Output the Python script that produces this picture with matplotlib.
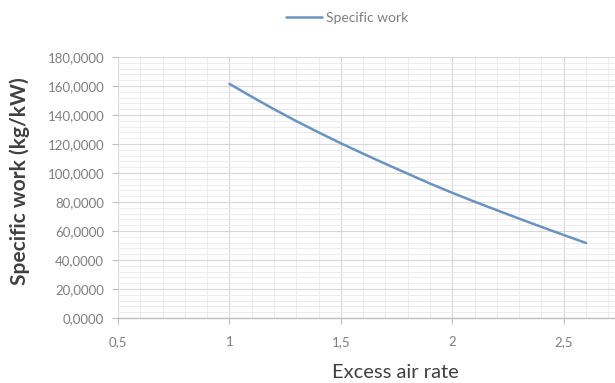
import matplotlib
matplotlib.use('Agg')
import matplotlib.pyplot as plt
from matplotlib.ticker import MultipleLocator, FuncFormatter

# excess air rate vs specific work
excess_air = [1.0, 1.1, 1.2, 1.3, 1.4, 1.5, 1.6, 1.7, 1.8, 1.9,
              2.0, 2.1, 2.2, 2.3, 2.4, 2.5, 2.6]
specific_work = [161.5, 152.6, 144.0, 135.8, 128.0, 120.5, 113.3, 106.3, 99.5, 92.7,
                 86.3, 80.2, 74.3, 68.5, 62.8, 57.2, 51.7]
series_name = 'Specific work'
x_label = 'Excess air rate'
y_label = 'Specific work (kg/kW)'

plt.rcParams['font.family'] = ['Lato', 'DejaVu Sans']

fig = plt.figure(figsize=(6.15, 3.83), dpi=100)
ax = fig.add_axes([0.192, 0.170, 0.808, 0.681])

ax.plot(excess_air, specific_work, color='#6b93c0', lw=1.8,
        solid_capstyle='round', label=series_name, zorder=3)

ax.set_xlim(0.5, 2.73)
ax.set_ylim(0, 180)
ax.xaxis.set_major_locator(MultipleLocator(0.5))
ax.xaxis.set_minor_locator(MultipleLocator(0.1))
ax.yaxis.set_major_locator(MultipleLocator(20))
ax.yaxis.set_minor_locator(MultipleLocator(4))

def xfmt(v, pos):
    s = ('%g' % round(v, 2))
    return s.replace('.', ',')

ax.xaxis.set_major_formatter(FuncFormatter(xfmt))
ax.yaxis.set_major_formatter(FuncFormatter(lambda v, p: ('%.4f' % v).replace('.', ',')))

ax.grid(which='major', color='#d9d9d9', lw=0.9)
ax.grid(which='minor', color='#ececec', lw=0.7)
ax.set_axisbelow(True)

for s in ['top', 'right', 'left']:
    ax.spines[s].set_visible(False)
ax.spines['bottom'].set_color('#bfbfbf')
ax.spines['bottom'].set_linewidth(1.0)

ax.tick_params(which='major', length=4, color='#bfbfbf', labelcolor='#7f7f7f',
               labelsize=9.5)
ax.tick_params(which='minor', length=0)
ax.tick_params(axis='y', pad=6)
ax.tick_params(axis='x', pad=9)

# x label centred on the full (cropped) chart, not the visible part
fig.text(395 / 615, 1 - 372 / 383, x_label, fontsize=14.5, color='#404040',
         ha='center', va='center')
fig.text(20 / 615, 1 - 181 / 383, y_label, fontsize=15, color='#404040',
         fontweight='bold', rotation=90, ha='center', va='center')

fig.legend(loc='center', bbox_to_anchor=(347 / 615, 1 - 18 / 383), frameon=False,
           fontsize=10, labelcolor='#7f7f7f', handlelength=2.6, handletextpad=0.3,
           borderaxespad=0)

fig.savefig('out.png', dpi=100)
